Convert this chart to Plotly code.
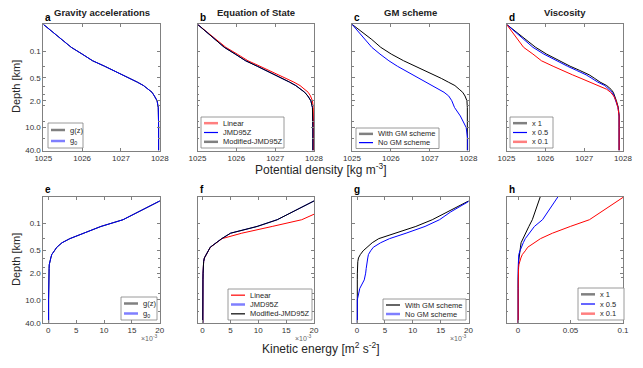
import numpy as np
import plotly.graph_objects as go

W, H = 643, 368

# shared vertical grid (depth in km)
depth_km = [0.02, 0.05, 0.08, 0.12, 0.18, 0.25, 0.32, 0.42, 0.52, 0.65,
            0.8, 1.0, 1.2, 1.5, 2.0, 3.0, 5.0, 10.0, 20.0, 40.0]

# potential density [kg m-3]
rho_gravity_gz = [1025.00, 1025.48, 1025.72, 1026.00, 1026.27, 1026.58, 1026.80, 1027.05, 1027.25, 1027.42,
                  1027.58, 1027.71, 1027.80, 1027.86, 1027.93, 1027.96, 1027.97, 1027.97, 1027.97, 1027.97]
rho_gravity_g0 = [1025.00, 1025.48, 1025.72, 1026.00, 1026.27, 1026.58, 1026.80, 1027.05, 1027.25, 1027.42,
                  1027.58, 1027.71, 1027.80, 1027.86, 1027.93, 1027.96, 1027.97, 1027.97, 1027.97, 1027.97]
rho_eos_linear = [1025.00, 1025.48, 1025.73, 1026.02, 1026.30, 1026.61, 1026.84, 1027.10, 1027.30, 1027.48,
                  1027.64, 1027.76, 1027.85, 1027.91, 1027.96, 1027.98, 1027.99, 1027.99, 1027.99, 1027.99]
rho_eos_jmd = [1025.00, 1025.45, 1025.69, 1025.97, 1026.24, 1026.54, 1026.76, 1027.01, 1027.20, 1027.37,
               1027.53, 1027.66, 1027.76, 1027.84, 1027.92, 1027.96, 1027.97, 1027.97, 1027.97, 1027.97]
rho_eos_mod = [1025.00, 1025.45, 1025.69, 1025.97, 1026.24, 1026.54, 1026.76, 1027.01, 1027.20, 1027.37,
               1027.53, 1027.66, 1027.76, 1027.84, 1027.92, 1027.96, 1027.97, 1027.97, 1027.97, 1027.97]
rho_gm_with = [1025.00, 1025.51, 1025.74, 1026.01, 1026.33, 1026.64, 1026.86, 1027.10, 1027.30, 1027.48,
               1027.65, 1027.76, 1027.85, 1027.91, 1027.96, 1027.97, 1027.97, 1027.97, 1027.97, 1027.97]
rho_gm_none = [1025.00, 1025.33, 1025.51, 1025.72, 1025.95, 1026.17, 1026.36, 1026.58, 1026.76, 1026.92,
               1027.07, 1027.24, 1027.37, 1027.49, 1027.57, 1027.64, 1027.79, 1027.94, 1027.98, 1027.98]
rho_visc_1 = [1025.00, 1025.50, 1025.75, 1026.03, 1026.35, 1026.64, 1026.88, 1027.13, 1027.27, 1027.41,
              1027.58, 1027.69, 1027.75, 1027.79, 1027.83, 1027.88, 1027.90, 1027.90, 1027.90, 1027.90]
rho_visc_05 = [1025.00, 1025.45, 1025.68, 1025.96, 1026.28, 1026.57, 1026.80, 1027.05, 1027.20, 1027.35,
               1027.53, 1027.65, 1027.72, 1027.77, 1027.82, 1027.87, 1027.90, 1027.90, 1027.90, 1027.90]
rho_visc_01 = [1025.00, 1025.29, 1025.44, 1025.68, 1025.90, 1026.20, 1026.46, 1026.70, 1026.92, 1027.14,
               1027.38, 1027.58, 1027.68, 1027.76, 1027.82, 1027.87, 1027.90, 1027.90, 1027.90, 1027.90]

# kinetic energy [m2 s-2]
ke_gravity_gz = [0.0215, 0.0162, 0.0134, 0.00944, 0.00624, 0.00387, 0.00246, 0.00152, 0.00109, 0.00062,
                 0.000445, 0.00026, 0.00017, 0.00014, 0.00011, 0.00008, 0.00006, 0.00005, 0.00005, 0.00005]
ke_gravity_g0 = [0.0215, 0.0162, 0.0134, 0.00944, 0.00624, 0.00387, 0.00246, 0.00152, 0.00109, 0.00062,
                 0.000445, 0.00026, 0.00017, 0.00014, 0.00011, 0.00008, 0.00006, 0.00005, 0.00005, 0.00005]
ke_eos_linear = [0.027, 0.021, 0.0178, 0.0125, 0.00705, 0.0035, 0.0025, 0.00142, 0.00105, 0.0006,
                 0.00034, 0.0002, 0.00015, 0.00012, 0.0001, 0.00008, 0.00006, 0.00005, 0.00005, 0.00005]
ke_eos_jmd = [0.0215, 0.0162, 0.0134, 0.0098, 0.00504, 0.00345, 0.0024, 0.00138, 0.00104, 0.00059,
              0.00033, 0.0002, 0.00015, 0.00012, 0.0001, 0.00008, 0.00006, 0.00005, 0.00005, 0.00005]
ke_eos_mod = [0.0215, 0.0162, 0.0134, 0.0098, 0.00504, 0.00345, 0.0024, 0.00138, 0.00104, 0.00059,
              0.00033, 0.0002, 0.00015, 0.00012, 0.0001, 0.00008, 0.00006, 0.00005, 0.00005, 0.00005]
ke_gm_with = [0.0215, 0.0162, 0.0135, 0.01055, 0.00664, 0.0039, 0.00273, 0.00177, 0.0011, 0.0006,
              0.00026, 0.00014, 0.00009, 0.00007, 0.00006, 0.00005, 0.00005, 0.00005, 0.00005, 0.00005]
ke_gm_none = [0.0215, 0.0168, 0.0148, 0.0122, 0.0088, 0.00584, 0.00424, 0.00293, 0.00245, 0.00205,
              0.00193, 0.0018, 0.00175, 0.00165, 0.00155, 0.0013, 0.0005, 0.00005, 0.00005, 0.00005]
ke_visc_1 = [0.0212, 0.0162, 0.0136, 0.0103, 0.0071, 0.0045, 0.0029, 0.0023, 0.0017, 0.0013,
             0.001, 0.0006, 0.0004, 0.0003, 0.0002, 0.0001, 0.0001, 0.0001, 0.0001, 0.0001]
ke_visc_05 = [0.0381, 0.0288, 0.0233, 0.0156, 0.0104, 0.0069, 0.005, 0.003, 0.0019, 0.0007,
              0.0004, 0.0002, 0.0001, 0.0001, 0.0001, 0.0001, 0.0001, 0.0001, 0.0001, 0.0001]
ke_visc_01 = [0.101, 0.0794, 0.068, 0.0498, 0.0328, 0.0214, 0.015, 0.0092, 0.0069, 0.0041,
              0.0027, 0.0014, 0.0008, 0.0005, 0.0003, 0.0001, 0.0001, 0.0001, 0.0001, 0.0001]

depth_ticks = [0.1, 0.5, 2.0, 10.0, 40.0]
depth_ticktext = ["0.1", "0.5", "2.0", "10.0", "40.0"]
rho_ticks = [1025, 1026, 1027, 1028]
ke_ticks = [0, 0.005, 0.01, 0.015, 0.02]
ke_ticktext = ["0", "5", "10", "15", "20"]
ke_visc_ticks = [0, 0.05, 0.1]

RED, BLUE, BLACK = "#ff0000", "#0000ff", "#000000"
PALE_RED, PALE_BLUE, GREY = "#ff7f7f", "#7f7fff", "#808080"
AX = "#808080"

# layout in pixels
col_left = [43.3, 197.5, 352.0, 506.5]
col_w = 116.5
row_top = [24.3, 196.7]
row_h = 126.2

panels = [
    dict(letter="a", title="Gravity accelerations", x=rho_ticks, xr=[1025, 1028], legend=(48, 123, 35, 25),
         lines=[("g(z)", rho_gravity_gz, BLACK, GREY, 2.5), ("g<sub>0</sub>", rho_gravity_g0, BLUE, PALE_BLUE, 2.5)]),
    dict(letter="b", title="Equation of State", x=rho_ticks, xr=[1025, 1028], legend=(201, 117, 83, 31),
         lines=[("Linear", rho_eos_linear, RED, PALE_RED, 2.5), ("JMD95Z", rho_eos_jmd, BLUE, BLUE, 1.2),
                ("Modified-JMD95Z", rho_eos_mod, BLACK, GREY, 2.5)]),
    dict(letter="c", title="GM scheme", x=rho_ticks, xr=[1025, 1028], legend=(356, 128, 83, 20.5),
         lines=[("With GM scheme", rho_gm_with, BLACK, GREY, 2.5), ("No GM scheme", rho_gm_none, BLUE, BLUE, 1.2)]),
    dict(letter="d", title="Viscosity", x=rho_ticks, xr=[1025, 1028], legend=(510, 117, 43, 31),
         lines=[("x 1", rho_visc_1, BLACK, GREY, 2.5), ("x 0.5", rho_visc_05, BLUE, BLUE, 1.2),
                ("x 0.1", rho_visc_01, RED, PALE_RED, 2.5)]),
    dict(letter="e", title="", x=ke_ticks, xt=ke_ticktext, xr=[-0.0009, 0.02], legend=(121, 297, 36, 23),
         lines=[("g(z)", ke_gravity_gz, BLACK, GREY, 2.5), ("g<sub>0</sub>", ke_gravity_g0, BLUE, PALE_BLUE, 2.5)]),
    dict(letter="f", title="", x=ke_ticks, xt=ke_ticktext, xr=[-0.0009, 0.02], legend=(228, 289, 84, 31),
         lines=[("Linear", ke_eos_linear, RED, RED, 1.2), ("JMD95Z", ke_eos_jmd, BLUE, PALE_BLUE, 2.5),
                ("Modified-JMD95Z", ke_eos_mod, BLACK, BLACK, 1.2)]),
    dict(letter="g", title="", x=ke_ticks, xt=ke_ticktext, xr=[-0.0009, 0.02], legend=(383, 299, 83, 21),
         lines=[("With GM scheme", ke_gm_with, BLACK, BLACK, 1.2), ("No GM scheme", ke_gm_none, BLUE, PALE_BLUE, 2.5)]),
    dict(letter="h", title="", x=ke_visc_ticks, xt=["0", "0.05", "0.1"], xr=[-0.011, 0.1], legend=(578, 288, 46, 32),
         lines=[("x 1", ke_visc_1, BLACK, GREY, 2.5), ("x 0.5", ke_visc_05, BLUE, BLUE, 1.2),
                ("x 0.1", ke_visc_01, RED, PALE_RED, 2.5)]),
]


def px(x):
    return x / W


def py(y):
    return 1 - y / H


fig = go.Figure()
layout = {}
annotations = []
shapes = []

for i, p in enumerate(panels):
    k = i + 1
    row, col = divmod(i, 4)
    sfx = "" if k == 1 else str(k)

    for name, vals, color, lcolor, lwidth in p["lines"]:
        fig.add_trace(go.Scatter(x=vals, y=depth_km, mode="lines", name=name,
                                 line=dict(color=color, width=1),
                                 xaxis="x" + sfx, yaxis="y" + sfx, showlegend=False))

    x0 = px(col_left[col])
    x1 = px(col_left[col] + col_w)
    y1 = py(row_top[row])
    y0 = py(row_top[row] + row_h)

    layout["xaxis" + sfx] = dict(
        domain=[x0, x1], anchor="y" + sfx, range=p["xr"], tickvals=p["x"],
        ticktext=p.get("xt"), ticks="inside", ticklen=3, tickcolor=AX, tickwidth=0.8,
        showline=True, linecolor=AX, linewidth=0.8, mirror="ticks", automargin=False,
        showgrid=False, zeroline=False, tickfont=dict(size=8, color="#333333"),
    )
    layout["yaxis" + sfx] = dict(
        domain=[y0, y1], anchor="x" + sfx, type="log",
        range=[np.log10(40), np.log10(0.02)], tickvals=depth_ticks, ticktext=depth_ticktext,
        showticklabels=(col == 0), ticks="inside", ticklen=3, tickcolor=AX, tickwidth=0.8,
        minor=dict(tickvals=[0.25, 0.85, 1.4, 2.6, 7.0, 20.0], ticks="inside", ticklen=2,
                   tickcolor=AX, tickwidth=0.8),
        showline=True, linecolor=AX, linewidth=0.8, mirror="ticks", automargin=False,
        showgrid=False, zeroline=False, tickfont=dict(size=8, color="#333333"),
    )

    # MATLAB-style legend box
    lx, ly, lw, lh = p["legend"]
    shapes.append(dict(type="rect", xref="paper", yref="paper", x0=px(lx), x1=px(lx + lw),
                       y0=py(ly + lh), y1=py(ly), line=dict(color=AX, width=0.8), fillcolor="white"))
    n = len(p["lines"])
    step = (lh - 3) / n
    for j, (name, vals, color, lcolor, lwidth) in enumerate(p["lines"]):
        yy = py(ly + 1.5 + step * (j + 0.5))
        shapes.append(dict(type="line", xref="paper", yref="paper", x0=px(lx + 3), x1=px(lx + 17),
                           y0=yy, y1=yy, line=dict(color=lcolor, width=lwidth)))
        annotations.append(dict(text=name, x=px(lx + 20), y=yy, xref="paper", yref="paper",
                                xanchor="left", yanchor="middle", showarrow=False,
                                font=dict(size=7.5, color="#262626")))

    annotations.append(dict(text=f"<b>{p['letter']}</b>", x=x0, y=py(row_top[row] - 7),
                            xref="paper", yref="paper", xanchor="left", yanchor="middle",
                            showarrow=False, font=dict(size=10, color="#000000")))
    if p["title"]:
        annotations.append(dict(text=f"<b>{p['title']}</b>", x=(x0 + x1) / 2, y=py(12),
                                xref="paper", yref="paper", xanchor="center", yanchor="middle",
                                showarrow=False, font=dict(size=9.5, color="#222222")))
    if row == 1 and col < 3:
        annotations.append(dict(text="\u00d710<sup>-3</sup>", x=x1, y=py(338),
                                xref="paper", yref="paper", xanchor="right", yanchor="middle",
                                showarrow=False, font=dict(size=7, color="#666666")))

annotations += [
    dict(text="Potential density [kg m<sup>-3</sup>]", x=px(321), y=py(169), xref="paper", yref="paper",
         xanchor="center", yanchor="middle", showarrow=False, font=dict(size=12, color="#262626")),
    dict(text="Kinetic energy [m<sup>2</sup> s<sup>-2</sup>]", x=px(321), y=py(348), xref="paper", yref="paper",
         xanchor="center", yanchor="middle", showarrow=False, font=dict(size=12, color="#262626")),
    dict(text="Depth [km]", x=px(16), y=py(87), xref="paper", yref="paper", textangle=-90,
         xanchor="center", yanchor="middle", showarrow=False, font=dict(size=11, color="#262626")),
    dict(text="Depth [km]", x=px(16), y=py(260), xref="paper", yref="paper", textangle=-90,
         xanchor="center", yanchor="middle", showarrow=False, font=dict(size=11, color="#262626")),
]

fig.update_layout(
    width=W, height=H, margin=dict(l=0, r=0, t=0, b=0, autoexpand=False),
    paper_bgcolor="white", plot_bgcolor="white", showlegend=False,
    font=dict(family="Liberation Sans, Arial, sans-serif"),
    annotations=annotations, shapes=shapes, **layout,
)

# drop the browser's default page margin so the 643x368 figure fills the window
fig.write_html("out.html", config={"displayModeBar": False},
               post_script="document.body.style.margin='0';")
